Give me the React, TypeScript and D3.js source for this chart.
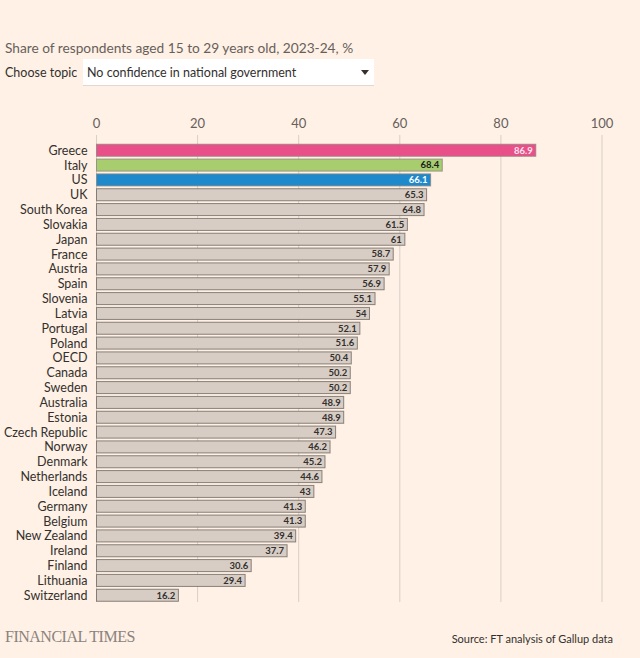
import React from "react";
import * as d3 from "d3";

const countries = ["Greece","Italy","US","UK","South Korea","Slovakia","Japan","France","Austria","Spain","Slovenia","Latvia","Portugal","Poland","OECD","Canada","Sweden","Australia","Estonia","Czech Republic","Norway","Denmark","Netherlands","Iceland","Germany","Belgium","New Zealand","Ireland","Finland","Lithuania","Switzerland"];
const values = [86.9,68.4,66.1,65.3,64.8,61.5,61,58.7,57.9,56.9,55.1,54,52.1,51.6,50.4,50.2,50.2,48.9,48.9,47.3,46.2,45.2,44.6,43,41.3,41.3,39.4,37.7,30.6,29.4,16.2];
const ticks = [0,20,40,60,80,100];
const highlight: Record<string,string> = { Greece: "#e9508a", Italy: "#a7cd6e", US: "#1f8acb" };
const labelColor: Record<string,string> = { Greece: "#fbe3ec", Italy: "#1a1a1a", US: "#ffffff" };

const W = 640, H = 658;
const FONT = "Lato, 'Open Sans', sans-serif";
const NARROW = "'Liberation Sans Narrow', Lato, sans-serif";

export default function App() {
  const x = d3.scaleLinear().domain([0, 100]).range([96.5, 602]);
  const y = d3.scaleBand().domain(countries).range([143.5, 602]).paddingInner(0.19).paddingOuter(0.05);
  return (
    <svg width={W} height={H} style={{ position: "absolute", left: 0, top: 0, background: "#fff1e5" }} fontFamily={FONT}>
      <rect width={W} height={H} fill="#fff1e5" />
      <text x={5} y={53} fontSize={13.7} fill="#66605c">Share of respondents aged 15 to 29 years old, 2023-24, %</text>
      <text x={5} y={76.5} fontSize={12.5} fill="#33302e">Choose topic</text>
      <rect x={83} y={59} width={291} height={26} fill="#ffffff" />
      <line x1={83} x2={374} y1={85.5} y2={85.5} stroke="#e0d8d0" />
      <text x={87} y={76.5} fontSize={12.5} fill="#33302e">No confidence in national government</text>
      <path d="M361,70 L369,70 L365,75 Z" fill="#33302e" />
      {ticks.map(t => (
        <g key={t}>
          <line x1={x(t)} x2={x(t)} y1={135} y2={602} stroke="#d8cfc6" strokeWidth={1} />
          <text x={x(t)} y={128} fontSize={13} textAnchor="middle" fill="#66605c">{t}</text>
        </g>
      ))}
      {countries.map((c, i) => {
        const yy = y(c)!;
        const bw = x(values[i]) - x(0);
        return (
          <g key={c}>
            <rect x={x(0)} y={yy} width={bw} height={y.bandwidth()} fill={highlight[c] || "#d8cdc4"} stroke={highlight[c] ? "#8f8580" : "#6e6863"} strokeWidth={1} strokeOpacity={0.8} />
            <text x={x(0) - 9} y={yy + y.bandwidth() / 2 + 4.5} fontSize={12.5} textAnchor="end" fill="#33302e">{c}</text>
            <text x={x(values[i]) - 3} y={yy + y.bandwidth() / 2 + 3.3} fontSize={9.5} fontWeight="bold" textAnchor="end" fontFamily={NARROW} fill={labelColor[c] || "#33302e"}>{String(values[i])}</text>
          </g>
        );
      })}
      <text x={5} y={642} fontSize={16} fill="#8a837e" fontFamily="'Liberation Serif', 'DejaVu Serif', serif" letterSpacing={-0.5}>FINANCIAL TIMES</text>
      <text x={613} y={643} fontSize={11} textAnchor="end" fill="#33302e">Source: FT analysis of Gallup data</text>
    </svg>
  );
}
